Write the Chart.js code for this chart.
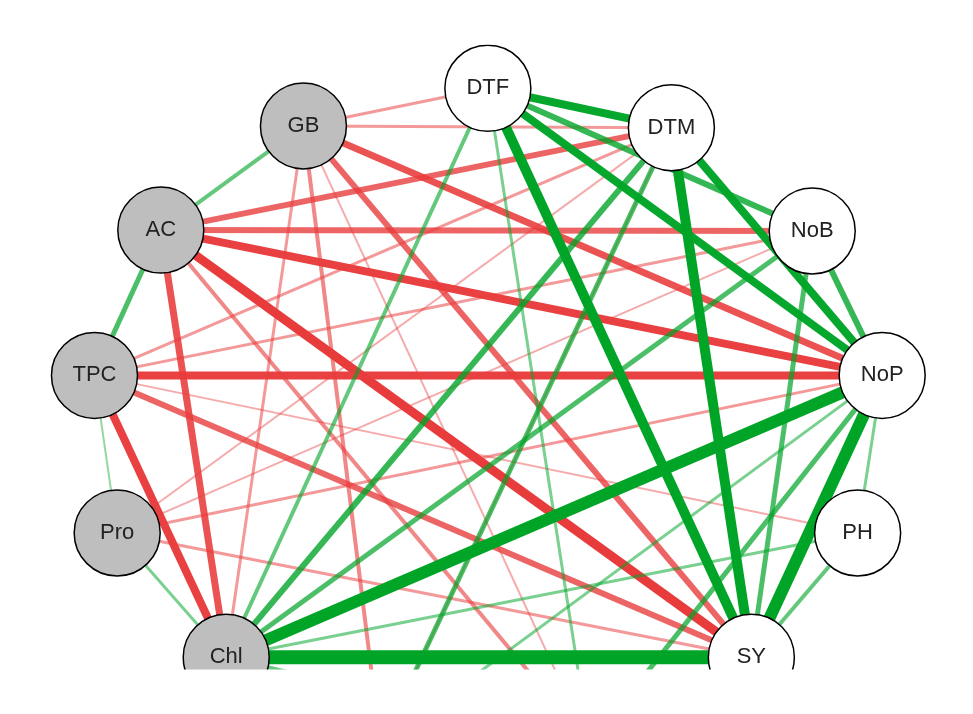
<!DOCTYPE html>
<html><head><meta charset="utf-8">
<script src="https://cdn.jsdelivr.net/npm/chart.js@4"></script>
<style>html,body{margin:0;padding:0;background:#fff}#w{width:973px;height:714px}</style>
</head><body><div id="w"><canvas id="c"></canvas></div>
<script>
const nodeNames = ["DTF","DTM","NoB","NoP","PH","SY","Chl","Pro","TPC","AC","GB","X1","X2"];
const nodeX = [488,690,845,922,895,778,200,80,55,128,285,370,600];
const nodeY = [50,95,213,378,558,700,700,558,378,212,93,800,800];
const nodeGrey = [0,0,0,0,0,0,1,1,1,1,1,0,0];
const edgeFrom = ["Chl","Chl","SY","SY","SY","DTF","DTF","DTM","NoB","DTF","Chl","Chl","SY","TPC","AC","Chl","SY","NoP","Chl","Pro","TPC","DTF","DTM","NoP","Chl","X1","X2","TPC","AC","AC","GB","TPC","AC","AC","AC","GB","TPC","GB","GB","Pro","TPC","Pro","GB","Pro","TPC","Pro","GB","AC","X1","X2","TPC"];
const edgeTo   = ["SY","NoP","NoP","DTF","DTM","NoP","DTM","NoP","NoP","NoB","DTM","NoB","NoB","AC","GB","DTF","PH","PH","PH","Chl","Pro","SY","X1","X2","X2","NoP","DTF","NoP","NoP","SY","NoP","Chl","Chl","NoB","DTM","SY","SY","DTM","DTF","NoP","NoB","SY","Chl","DTM","DTM","NoB","X1","X2","DTM","GB","PH"];
const edgeW    = [14,12,12,10,10,8,8,8,6,6,6,5,5,5,4,4,4,3,3,3,2,5,5,5,4,3,3,-8,-8,-9,-7,-8,-7,-6,-6,-6,-6,-3,-3,-3,-3,-3,-3,-2,-3,-2,-4,-4,-2,-2,-2];

const idx = n => nodeNames.indexOf(n);
const datasets = [];
edgeFrom.forEach((f,i)=>{
  const a=idx(f), b=idx(edgeTo[i]), w=edgeW[i], m=Math.abs(w);
  const al = Math.min(1, 0.25 + m/11);
  const col = w>0 ? `rgba(0,165,40,${al})` : `rgba(232,60,60,${al})`;
  datasets.push({type:'scatter',showLine:true,data:[{x:nodeX[a],y:nodeY[a]},{x:nodeX[b],y:nodeY[b]}],
    borderColor:col,borderWidth:m,pointRadius:0,order:2,borderCapStyle:'butt'});
});
datasets.push({type:'scatter',order:1,
  data:nodeNames.map((n,i)=>({x:nodeX[i],y:nodeY[i]})),
  pointRadius:43,pointBackgroundColor:nodeGrey.map(g=>g?'#BEBEBE':'#FFFFFF'),
  pointBorderColor:'#000',pointBorderWidth:1.5,pointHoverRadius:43});

const labels = {id:'labels',afterDatasetsDraw(ch){
  const c=ch.ctx,xs=ch.scales.x,ys=ch.scales.y;
  c.save();c.font='22px "Liberation Sans", Arial';c.fillStyle='#222';c.textAlign='center';c.textBaseline='middle';
  nodeNames.forEach((n,i)=>{ if(!n.startsWith('X')) c.fillText(n,xs.getPixelForValue(nodeX[i]),ys.getPixelForValue(nodeY[i]));});
  c.restore();}};

new Chart(document.getElementById('c'),{
  type:'scatter',
  data:{datasets},
  options:{responsive:true,maintainAspectRatio:false,animation:false,
    layout:{padding:0},
    plugins:{legend:{display:false},tooltip:{enabled:false}},
    scales:{x:{type:'linear',min:0,max:973,display:false},
            y:{type:'linear',min:0,max:714,reverse:true,display:false}}},
  plugins:[labels]});
</script></body></html>
